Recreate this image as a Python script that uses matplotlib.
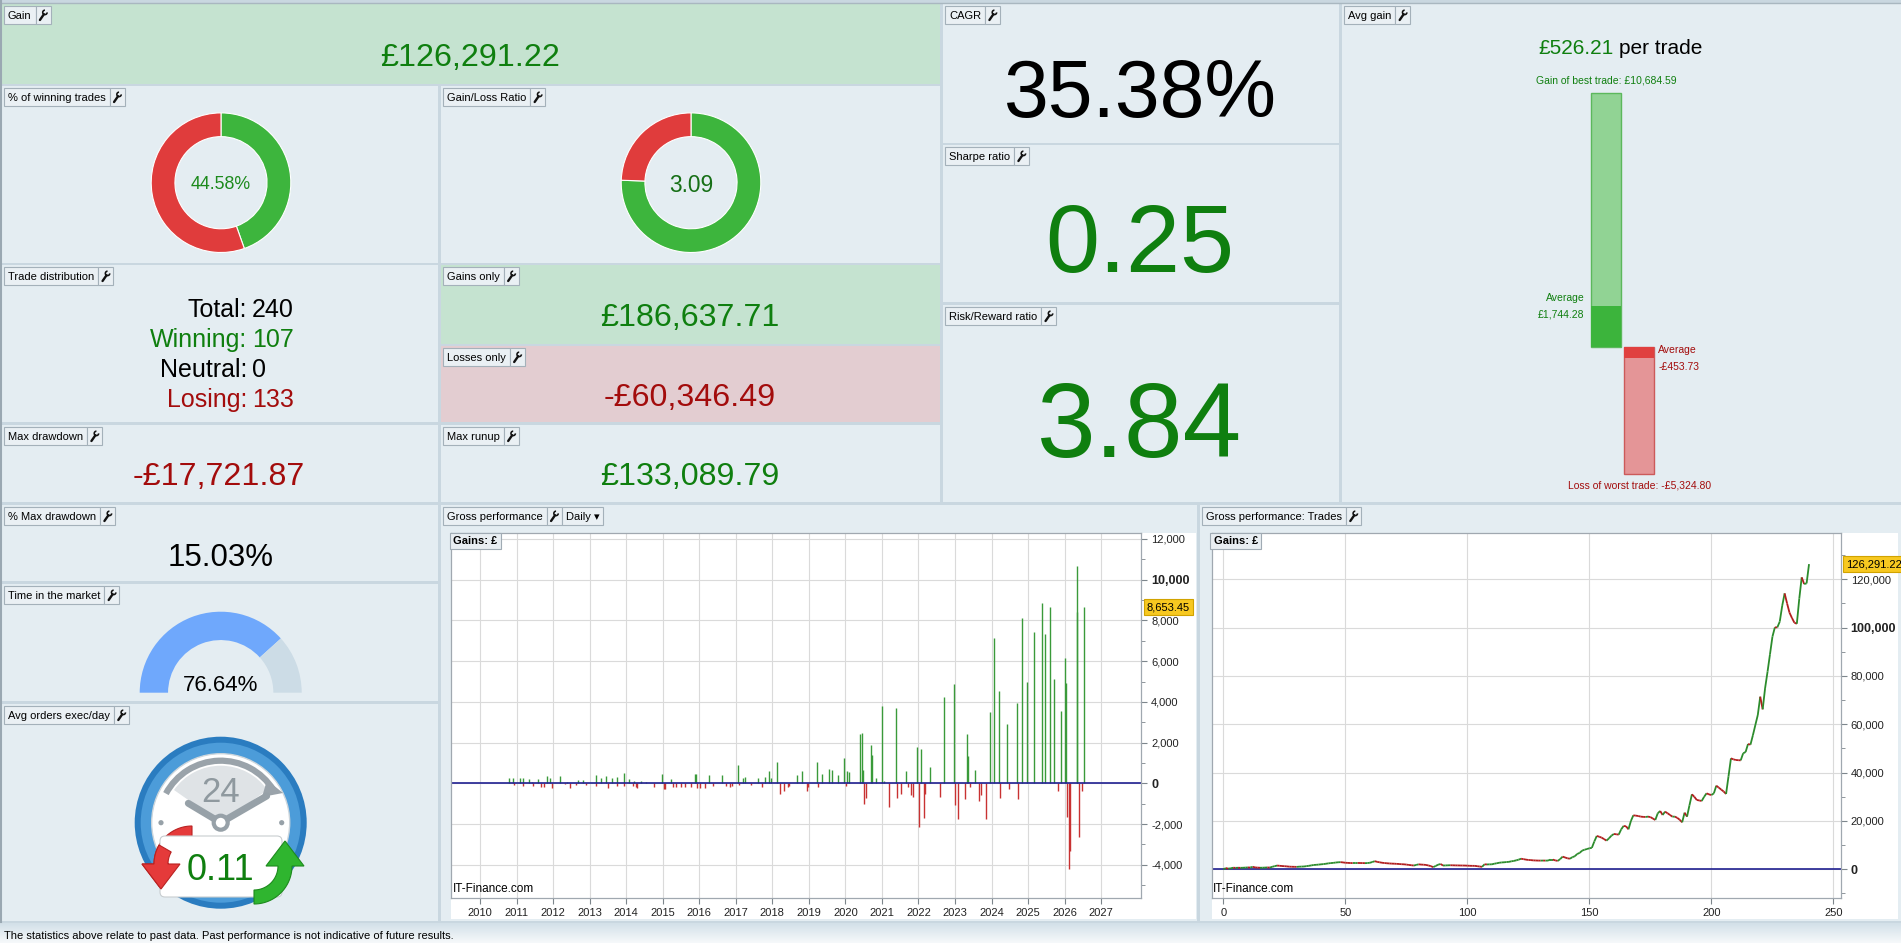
import numpy as np
import matplotlib
matplotlib.use('Agg')
import matplotlib.pyplot as plt
import matplotlib.transforms as mtransforms
from matplotlib.patches import Rectangle, Circle, Wedge, FancyBboxPatch, Arc, Polygon
from matplotlib.collections import LineCollection
from matplotlib.colors import LinearSegmentedColormap
from matplotlib.ticker import MultipleLocator

plt.rcParams['font.family'] = ['Liberation Sans', 'DejaVu Sans']

W, H = 1901, 943

# headline statistics
total_gain = 126291.22
gains_only = 186637.71
losses_only = -60346.49
max_drawdown = -17721.87
max_runup = 133089.79
cagr = 35.38
sharpe = 0.25
risk_reward = 3.84
n_total, n_win, n_neutral, n_lose = 240, 107, 0, 133
pct_winning = 44.58
gain_loss_ratio = 3.09
avg_gain = 526.21
best_trade = 10684.59
worst_trade = -5324.80
avg_win = 1744.28
avg_loss = -453.73
pct_max_dd = 15.03
time_in_market = 76.64
avg_orders_day = 0.11

# daily gross performance (decimal year, £)
gain_dates = [2010.80, 2010.89, 2011.09, 2011.18, 2011.35, 2011.42, 2011.59, 2011.84, 2011.92, 2012.20,
              2012.39, 2012.68, 2012.82, 2013.17, 2013.30, 2013.46, 2013.62, 2013.75, 2013.95, 2014.07,
              2014.22, 2014.42, 2014.55, 2014.97, 2015.24, 2015.89, 2015.92, 2016.27, 2016.63, 2017.06,
              2017.19, 2017.25, 2017.61, 2017.81, 2017.92, 2017.97, 2018.13, 2018.67, 2018.82, 2019.23,
              2019.36, 2019.56, 2019.62, 2019.79, 2019.97, 2020.04, 2020.11, 2020.41, 2020.46, 2020.49,
              2020.69, 2020.73, 2020.85, 2021.01, 2021.06, 2021.39, 2021.66, 2021.95, 2022.06, 2022.32,
              2022.71, 2022.97, 2023.33, 2023.36, 2023.55, 2023.97, 2024.07, 2024.20, 2024.43, 2024.69,
              2024.84, 2024.97, 2025.17, 2025.38, 2025.46, 2025.60, 2025.72, 2025.90, 2026.01, 2026.05,
              2026.33, 2026.35, 2026.54]
gain_values = [250, 280, 260, 280, 200, 80, 200, 360, 260, 360,
               40, 150, 150, 410, 250, 360, 250, 290, 490, 200,
               110, 110, 80, 460, 200, 460, 460, 390, 390, 900,
               260, 310, 260, 330, 590, 260, 1030, 390, 590, 1030,
               460, 700, 650, 390, 1240, 610, 560, 2420, 2460, 650,
               1870, 1390, 260, 3780, 110, 3700, 610, 1780, 1690, 800,
               4240, 4880, 2420, 1340, 650, 3500, 7140, 4530, 2910, 3950,
               8120, 4980, 7430, 8840, 7330, 8660, 5120, 3550, 6160, 4930,
               10684.59, 8410, 8653.45]
loss_dates = [2010.92, 2011.19, 2011.46, 2011.68, 2011.75, 2011.98, 2012.32, 2012.45, 2012.64, 2012.90,
              2013.18, 2013.50, 2013.75, 2013.95, 2014.18, 2014.26, 2014.31, 2014.76, 2015.03, 2015.07,
              2015.27, 2015.36, 2015.49, 2015.61, 2015.78, 2015.94, 2016.01, 2016.15, 2016.39, 2016.74,
              2016.83, 2016.91, 2017.10, 2017.43, 2017.72, 2018.21, 2018.33, 2018.43, 2018.47, 2018.94,
              2018.99, 2019.26, 2020.01, 2020.52, 2020.56, 2021.19, 2021.42, 2021.51, 2021.72, 2021.79,
              2021.84, 2022.02, 2022.16, 2022.19, 2022.60, 2023.01, 2023.08, 2023.28, 2023.40, 2023.65,
              2023.70, 2023.85, 2024.24, 2024.48, 2024.72, 2025.82, 2026.07, 2026.11, 2026.15, 2026.38,
              2026.47]
loss_values = [-80, -110, -130, -180, -160, -230, -50, -230, -80, -80,
               -110, -230, -130, -130, -150, -180, -230, -160, -290, -260,
               -200, -160, -160, -180, -180, -250, -230, -230, -110, -150,
               -160, -130, -100, -100, -180, -510, -360, -200, -150, -360,
               -160, -180, -110, -1010, -700, -1150, -700, -520, -160, -570,
               -650, -2130, -1690, -520, -650, -1060, -1750, -750, -160, -850,
               -560, -1750, -700, -290, -750, -360, -1640, -4220, -3310, -2620,
               -360]
last_daily = 8653.45
year_ticks = list(range(2010, 2028))

# cumulative gain after each trade (£)
equity = [0, 500, 260, 420, 640, 600, 640, 610, 640, 700,
          770, 720, 1030, 770, 700, 640, 660, 700, 770, 700,
          1030, 1300, 1550, 1450, 1350, 1290, 1200, 1100, 1050, 1030,
          1000, 1080, 1120, 1160, 1300, 1450, 1600, 1800, 1850, 1950,
          2060, 2150, 2300, 2450, 2580, 2650, 2800, 2900, 2960, 2850,
          2710, 2650, 2600, 2580, 2580, 2620, 2600, 2580, 2550, 2580,
          2700, 3000, 3350, 3100, 2900, 2710, 2600, 2500, 2420, 2350,
          2320, 2250, 2200, 2100, 2060, 1950, 1800, 1700, 1550, 1800,
          2060, 1950, 1900, 1800, 1600, 1300, 900, 1400, 1900, 2190,
          1550, 1600, 1650, 1680, 1650, 1620, 1600, 1580, 1560, 1550,
          1500, 1450, 1430, 1420, 1300, 1150, 1030, 2060, 2000, 2050,
          2060, 2300, 2500, 2700, 2840, 2900, 3000, 3090, 3300, 3480,
          3700, 4000, 4380, 4200, 4000, 3870, 3800, 3700, 3650, 3610,
          3600, 3620, 3600, 3610, 4000, 4000, 3700, 3480, 4200, 5240,
          4900, 4550, 4380, 5000, 5410, 6340, 6800, 7720, 8100, 8400,
          8690, 8900, 11500, 13790, 13500, 13100, 12500, 11860, 12800, 13900,
          14620, 14500, 14340, 16500, 17930, 17800, 16550, 20000, 22340, 22200,
          22060, 21800, 21700, 21650, 21800, 21600, 21000, 20410, 23170, 24130,
          22480, 23860, 23200, 22500, 21790, 21800, 21300, 20500, 19440, 23440,
          21790, 26500, 31030, 30000, 28680, 28500, 28270, 30000, 31440, 31000,
          30750, 31440, 34610, 33800, 33000, 32200, 31170, 38500, 45920, 45500,
          45230, 45150, 45090, 47990, 48540, 51850, 51580, 55500, 59710, 63850,
          71430, 66190, 75000, 81780, 89000, 96260, 100110, 100100, 102500, 109000,
          114180, 110040, 106180, 104000, 102050, 101600, 112000, 120800, 118050, 118320,
          126291.22]

PANEL = '#e4edf2'
GREEN_BG = '#c5e3d0'
PINK_BG = '#e3cdd1'
TAB_BG = '#eaf0f4'
TAB_EDGE = '#a4b1ba'
TXT_GREEN = '#0f7f0f'
TXT_RED = '#a30c0c'


def money(v):
    return f'-£{abs(v):,.2f}' if v < 0 else f'£{v:,.2f}'


def frect(x0, y0, x1, y1):
    return [x0 / W, 1 - y1 / H, (x1 - x0) / W, (y1 - y0) / H]


fig = plt.figure(figsize=(W / 100, H / 100), dpi=100, facecolor='#c9d7e0')
renderer = fig.canvas.get_renderer()

bg = fig.add_axes([0, 0, 1, 1], zorder=0)
bg.axis('off')

panels = [
    (2, 4, 940, 84, GREEN_BG, 'Gain', None),
    (2, 86, 438, 263, PANEL, '% of winning trades', None),
    (441, 86, 940, 263, PANEL, 'Gain/Loss Ratio', None),
    (2, 265, 438, 422, PANEL, 'Trade distribution', None),
    (441, 265, 940, 344, GREEN_BG, 'Gains only', None),
    (441, 346, 940, 422, PINK_BG, 'Losses only', None),
    (2, 425, 438, 502, PANEL, 'Max drawdown', None),
    (441, 425, 940, 502, PANEL, 'Max runup', None),
    (943, 4, 1339, 143, PANEL, 'CAGR', None),
    (943, 145, 1339, 302, PANEL, 'Sharpe ratio', None),
    (943, 305, 1339, 502, PANEL, 'Risk/Reward ratio', None),
    (1342, 4, 1901, 502, PANEL, 'Avg gain', None),
    (2, 505, 438, 581, PANEL, '% Max drawdown', None),
    (2, 584, 438, 701, PANEL, 'Time in the market', None),
    (2, 704, 438, 921, PANEL, 'Avg orders exec/day', None),
    (441, 505, 1197, 921, PANEL, 'Gross performance', 'Daily ▾'),
    (1200, 505, 1901, 921, PANEL, 'Gross performance: Trades', None),
]


def wrench(cx, cy):
    bg.plot([cx - 3.2, cx + 0.8], [cy + 5, cy - 0.8], color='#111111', lw=1.7,
            solid_capstyle='round', zorder=7)
    bg.add_patch(Wedge((cx + 1.8, cy - 2.6), 3.0, 0, 270, width=1.6, fc='#111111', ec='none', zorder=7))


def tab(x, y, label, extra=None):
    t = bg.text(x + 4, y + 13, label, fontsize=8, ha='left', va='baseline', zorder=6)
    w = t.get_window_extent(renderer).width
    x1 = x + w + 8
    bg.add_patch(Rectangle((x, y), x1 - x, 18, fc=TAB_BG, ec=TAB_EDGE, lw=0.8, zorder=5))
    bg.add_patch(Rectangle((x1, y), 15, 18, fc=TAB_BG, ec=TAB_EDGE, lw=0.8, zorder=5))
    wrench(x1 + 7.5, y + 9)
    if extra:
        t2 = bg.text(x1 + 19, y + 13, extra, fontsize=8, ha='left', va='baseline', zorder=6)
        w2 = t2.get_window_extent(renderer).width
        bg.add_patch(Rectangle((x1 + 15, y), w2 + 8, 18, fc=TAB_BG, ec=TAB_EDGE, lw=0.8, zorder=5))


for x0, y0, x1, y1, col, label, extra in panels:
    bg.add_patch(Rectangle((x0, y0), x1 - x0, y1 - y0, fc=col, ec='none', zorder=1))
    tab(x0 + 2, y0 + 2, label, extra)

bg.plot([0, W], [2.5, 2.5], color='#a9b7c0', lw=1, zorder=2)
bg.plot([1, 1], [0, 922], color='#9aa8b2', lw=1.5, zorder=2)

# white chart areas
bg.add_patch(Rectangle((451, 533), 1196 - 451, 919 - 533, fc='white', ec='none', zorder=2))
bg.add_patch(Rectangle((1212, 533), 1898 - 1212, 919 - 533, fc='white', ec='none', zorder=2))

# footer
foot_cmap = LinearSegmentedColormap.from_list('foot', ['#d3e0e8', '#f6f9fb'])
bg.imshow(np.linspace(0, 1, 30).reshape(-1, 1), extent=(0, W, 943, 923), cmap=foot_cmap,
          aspect='auto', zorder=1)
bg.text(4, 939, 'The statistics above relate to past data. Past performance is not indicative of future results.',
        fontsize=8, ha='left', va='baseline', zorder=3)


def txt(x, y, s, size, color='black', ha='center'):
    bg.text(x, y, s, fontsize=size, color=color, ha=ha, va='baseline', zorder=4)


txt(470, 65.8, money(total_gain), 23.2, TXT_GREEN)
txt(690, 326, money(gains_only), 23.2, TXT_GREEN)
txt(690, 406, money(losses_only), 23.2, TXT_RED)
txt(219, 485, money(max_drawdown), 23.2, TXT_RED)
txt(690, 485, money(max_runup), 23.2, TXT_GREEN)

dist = [('Total:', n_total, 'black'), ('Winning:', n_win, TXT_GREEN),
        ('Neutral:', n_neutral, 'black'), ('Losing:', n_lose, TXT_RED)]
for i, (lab, val, col) in enumerate(dist):
    yb = 317.3 + 30 * i
    txt(247, yb, lab, 18, col, ha='right')
    txt(252, yb, str(val), 18, col, ha='left')

txt(1140, 116.7, f'{cagr:.2f}%', 58)
txt(1140, 271.7, f'{sharpe:.2f}', 70, TXT_GREEN)
txt(1140, 456.7, f'{risk_reward:.2f}', 76, TXT_GREEN)

txt(1614, 54.3, money(avg_gain), 15, TXT_GREEN, ha='right')
txt(1619, 54.3, 'per trade', 15, 'black', ha='left')

txt(220.7, 565.7, f'{pct_max_dd:.2f}%', 22.5)


# donuts
def donut(cx, cy, R, values, colors, width):
    ax = fig.add_axes(frect(cx - R, cy - R, cx + R, cy + R), zorder=1)
    ax.pie(values, colors=colors, startangle=90, counterclock=False,
           wedgeprops=dict(width=width, edgecolor='white', linewidth=0.8))
    ax.set_xlim(-1.01, 1.01)
    ax.set_ylim(-1.01, 1.01)
    ax.set_aspect('equal')
    ax.axis('off')
    return ax


donut(221, 182.7, 70.5, [pct_winning, 100 - pct_winning], ['#3db53d', '#e03c3c'], 0.34)
donut(691, 182.7, 70.5, [gains_only, abs(losses_only)], ['#3db53d', '#e03c3c'], 0.34)
txt(221, 189.3, f'{pct_winning:.2f}%', 12.8, '#1c8a1c')
txt(691, 192, f'{gain_loss_ratio:.2f}', 16.4, '#166f16')

# time in the market gauge
gR = 81
gax = fig.add_axes(frect(220.7 - gR, 692.7 - gR, 220.7 + gR, 692.7 + gR), zorder=1)
gax.pie([time_in_market, 100 - time_in_market, 100], colors=['#6fa8fc', '#ccdce6', 'none'],
        startangle=180, counterclock=False, wedgeprops=dict(width=0.35, linewidth=0))
gax.set_xlim(-1, 1)
gax.set_ylim(-1, 1)
gax.set_aspect('equal')
gax.axis('off')
fig.text(220.7 / W, 1 - 691 / H, f'{time_in_market:.2f}%', fontsize=16, ha='center', va='baseline', zorder=5)

# avg gain bars
bax = fig.add_axes(frect(1540, 60, 1720, 500), zorder=1)
bax.set_xlim(-1.994, 3.444)
bax.set_ylim(-6408, 12056)
bax.axis('off')
bw = 0.927
bax.bar([0, 1], [best_trade, worst_trade], width=bw, color=['#91d394', '#e49597'],
        edgecolor=['#5cb85c', '#cc5a5a'], linewidth=1)
bax.bar([0, 1], [avg_win, avg_loss], width=bw, color=['#3cb43c', '#e0403f'], linewidth=0)
bax.annotate(f'Gain of best trade: {money(best_trade)}', xy=(0, best_trade), xytext=(0, 9),
             textcoords='offset pixels', ha='center', va='baseline', fontsize=7.5, color=TXT_GREEN)
bax.annotate(f'Loss of worst trade: {money(worst_trade)}', xy=(1, worst_trade), xytext=(0, -14),
             textcoords='offset pixels', ha='center', va='baseline', fontsize=7.5, color=TXT_RED)
bax.annotate('Average', xy=(-bw / 2, avg_win), xytext=(-6, 4.6), textcoords='offset pixels',
             ha='right', va='baseline', fontsize=7.5, color=TXT_GREEN)
bax.annotate(money(avg_win), xy=(-bw / 2, avg_win), xytext=(-6, -12), textcoords='offset pixels',
             ha='right', va='baseline', fontsize=7.5, color=TXT_GREEN)
bax.annotate('Average', xy=(1 + bw / 2, avg_loss), xytext=(4, 5), textcoords='offset pixels',
             ha='left', va='baseline', fontsize=7.5, color=TXT_RED)
bax.annotate(money(avg_loss), xy=(1 + bw / 2, avg_loss), xytext=(4, -11.7), textcoords='offset pixels',
             ha='left', va='baseline', fontsize=7.5, color=TXT_RED)


def curved_arrow(c, r, a0, a1, hw, head_hw, head_len, fc, ec, z):
    # band along a circle (screen coords, y down) ending in a triangular head
    ang = np.radians(np.linspace(a0, a1, 30))
    outer = [(c[0] + (r + hw) * np.cos(a), c[1] - (r + hw) * np.sin(a)) for a in ang]
    inner = [(c[0] + (r - hw) * np.cos(a), c[1] - (r - hw) * np.sin(a)) for a in ang[::-1]]
    a = ang[-1]
    tx, ty = -np.sin(a), -np.cos(a)
    tip = (c[0] + r * np.cos(a) + head_len * tx, c[1] - r * np.sin(a) + head_len * ty)
    head = [(c[0] + (r + head_hw) * np.cos(a), c[1] - (r + head_hw) * np.sin(a)), tip,
            (c[0] + (r - head_hw) * np.cos(a), c[1] - (r - head_hw) * np.sin(a))]
    bg.add_patch(Polygon(outer + head + inner, closed=True, fc=fc, ec=ec, lw=0.8, zorder=z))


# clock icon for avg orders/day
C = (220.7, 822.7)
bg.add_patch(Circle(C, 86, fc='#2a7cc0', ec='none', zorder=3))
bg.add_patch(Circle(C, 80, fc='#4c9cd9', ec='none', zorder=3))
bg.add_patch(Circle(C, 69, fc='white', ec='#cdd6dc', lw=1, zorder=3))
bg.add_patch(Wedge(C, 57, 215, 325, fc='#dfe3e6', ec='none', zorder=3))
bg.add_patch(Arc(C, 124, 124, theta1=208, theta2=328, color='#9aa3aa', lw=4.5, zorder=4))
bg.add_patch(Polygon([(267, 780), (283, 793), (262, 797)], closed=True, fc='#9aa3aa', ec='none', zorder=4))
bg.text(220.7, 801.7, '24', fontsize=25, color='#8f999f', ha='center', va='baseline', zorder=4)
bg.plot([C[0], 188.3], [C[1], 803.3], color='#97a1a8', lw=5, solid_capstyle='round', zorder=4)
bg.plot([C[0], 266.7], [C[1], 796], color='#97a1a8', lw=5, solid_capstyle='round', zorder=4)
bg.add_patch(Circle(C, 7, fc='white', ec='#97a1a8', lw=3, zorder=5))
bg.add_patch(Circle((161, 822.7), 2.6, fc='#97a1a8', ec='none', zorder=4))
bg.add_patch(Circle((281.7, 822.7), 2.6, fc='#97a1a8', ec='none', zorder=4))
curved_arrow((192, 864), 31, 90, 180, 7, 19, 25, '#e53a3a', '#b92222', 5)
bg.add_patch(FancyBboxPatch((162, 838), 118, 57, boxstyle='round,pad=2,rounding_size=5',
                            fc='white', ec='#c8cdd0', lw=0.8, zorder=6))
curved_arrow((192, 864), 31, 150, 180, 7, 19, 25, '#e53a3a', '#b92222', 6.5)
curved_arrow((254, 866), 31, 270, 360, 7, 19, 25, '#2fb52f', '#1d8a1d', 7)
bg.text(220.7, 880.5, f'{avg_orders_day:.2f}', fontsize=26, color=TXT_GREEN, ha='center', va='baseline', zorder=8)

bg.set_xlim(0, W)
bg.set_ylim(H, 0)


def style_chart(ax):
    ax.set_facecolor('white')
    for s in ax.spines.values():
        s.set_color('#a0a8b0')
        s.set_linewidth(0.9)
    ax.yaxis.tick_right()
    ax.tick_params(axis='both', which='both', direction='out', colors='#7d868c',
                   labelcolor='#222222', labelsize=8)
    ax.tick_params(axis='y', which='major', length=4, pad=3)
    ax.tick_params(axis='y', which='minor', length=3)
    ax.tick_params(axis='x', length=4, pad=3)
    ax.grid(True, which='major', color='#dadada', lw=0.8)
    ax.set_axisbelow(True)
    ax.text(0.003, 0.993, 'Gains: £', transform=ax.transAxes, ha='left', va='top', fontsize=8,
            fontweight='bold', bbox=dict(boxstyle='square,pad=0.3', fc='#e9eef2', ec='#a0abb4', lw=0.8))
    ax.text(0.002, 0.008, 'IT-Finance.com', transform=ax.transAxes, ha='left', va='bottom', fontsize=8.5)


def flag(ax, value, label):
    tr = mtransforms.blended_transform_factory(ax.transAxes, ax.transData)
    ax.text(1.008, value, label, transform=tr, ha='left', va='center', fontsize=8, clip_on=False,
            bbox=dict(boxstyle='square,pad=0.25', fc='#f7c820', ec='#d1a300', lw=0.8), zorder=10)


# daily gross performance
dax = fig.add_axes(frect(451, 533.3, 1141.4, 898.3), zorder=2)
style_chart(dax)
dax.vlines(gain_dates, 0, gain_values, color='#3a9a3a', lw=1.0)
dax.vlines(loss_dates, 0, loss_values, color='#c83232', lw=1.0)
dax.axhline(0, color='#202090', lw=1.2)
dax.set_xlim(2009.207, 2028.10)
dax.set_ylim(-5648, 12279)
dax.set_xticks(year_ticks, [str(y) for y in year_ticks])
dticks = list(range(-4000, 12001, 2000))
dax.set_yticks(dticks, [f'{v:,}' for v in dticks])
dax.yaxis.set_minor_locator(MultipleLocator(1000))
for lab in dax.get_yticklabels():
    if lab.get_text() in ('0', '10,000'):
        lab.set_fontweight('bold')
        lab.set_fontsize(9)
flag(dax, last_daily, f'{last_daily:,.2f}')

# trades equity curve
tax = fig.add_axes(frect(1211.7, 533.3, 1841, 898.3), zorder=2)
style_chart(tax)
eq = np.array(equity, dtype=float)
n = np.arange(len(eq))
segs = np.stack([np.column_stack([n[:-1], eq[:-1]]), np.column_stack([n[1:], eq[1:]])], axis=1)
seg_cols = np.where(np.diff(eq) >= 0, '#2c8c2c', '#b21e1e')
tax.add_collection(LineCollection(segs, colors=seg_cols, linewidths=1.3, zorder=3))
tax.axhline(0, color='#202090', lw=1.2, zorder=2)
tax.set_xlim(-4.8, 253.1)
tax.set_ylim(-12000, 139040)
tax.set_xticks(range(0, 251, 50))
tticks = list(range(0, 120001, 20000))
tax.set_yticks(tticks, [f'{v:,}' for v in tticks])
tax.yaxis.set_minor_locator(MultipleLocator(10000))
for lab in tax.get_yticklabels():
    if lab.get_text() in ('0', '100,000'):
        lab.set_fontweight('bold')
        lab.set_fontsize(9)
flag(tax, eq[-1], f'{eq[-1]:,.2f}')

fig.savefig('out.png', dpi=100, facecolor=fig.get_facecolor())
